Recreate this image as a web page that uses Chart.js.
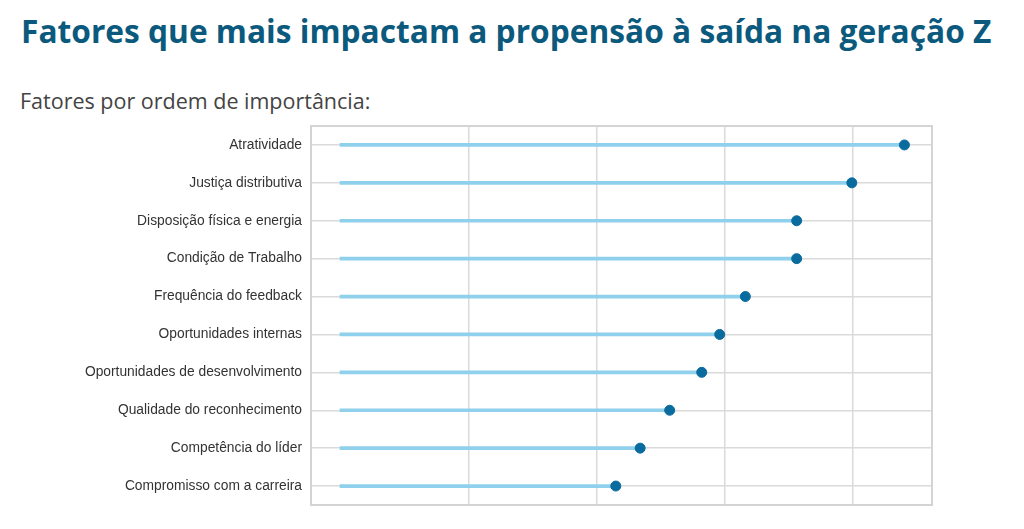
<!DOCTYPE html>
<html>
<head>
<meta charset="utf-8">
<script src="https://cdn.jsdelivr.net/npm/chart.js@4.4.1/dist/chart.umd.min.js"></script>
<style>
    body { margin: 0; background: #fff; width: 1024px; height: 529px; overflow: hidden; position: relative; }
    h1 {
        position: absolute; left: 21px; top: 9px; margin: 0;
        font-family: "Open Sans", sans-serif; font-weight: 700; font-size: 31.7px;
        color: #0b5a7e; white-space: nowrap;
    }
    .sub {
        position: absolute; left: 20px; top: 86px; margin: 0;
        font-family: "Open Sans", sans-serif; font-size: 21.5px; color: #444;
        white-space: nowrap;
    }
    #wrap { position: absolute; left: 0; top: 0; width: 1024px; height: 529px; }
</style>
</head>
<body>
<h1>Fatores que mais impactam a propensão à saída na geração Z</h1>
<p class="sub">Fatores por ordem de importância:</p>
<div id="wrap"><canvas id="chart"></canvas></div>
<script>
// Factors and their importance
const factors = [
    'Atratividade',
    'Justiça distributiva',
    'Disposição física e energia',
    'Condição de Trabalho',
    'Frequência do feedback',
    'Oportunidades internas',
    'Oportunidades de desenvolvimento',
    'Qualidade do reconhecimento',
    'Competência do líder',
    'Compromisso com a carreira'
];
const importance = [4.40, 3.99, 3.56, 3.56, 3.16, 2.96, 2.82, 2.57, 2.34, 2.15];

const xMin = -0.226;
const xMax = 4.615;

// draws the grey frame round the plot area
const frame = {
    id: 'frame',
    beforeDatasetsDraw(chart) {
        const { ctx, chartArea: a } = chart;
        ctx.save();
        ctx.strokeStyle = '#d4d4d4';
        ctx.lineWidth = 2;
        ctx.strokeRect(a.left, a.top, a.right - a.left, a.bottom - a.top);
        ctx.restore();
    }
};

new Chart(document.getElementById('chart'), {
    data: {
        labels: factors,
        datasets: [
            {
                type: 'line',
                indexAxis: 'y',
                data: importance,
                showLine: false,
                pointRadius: 5,
                pointHoverRadius: 5,
                pointBackgroundColor: '#0a6c9e',
                pointBorderColor: '#0a6c9e',
                order: 0
            },
            {
                type: 'bar',
                data: importance,
                backgroundColor: '#8fd0ec',
                barThickness: 3,
                order: 1
            }
        ]
    },
    options: {
        indexAxis: 'y',
        responsive: true,
        maintainAspectRatio: false,
        animation: false,
        layout: { padding: { top: 126, right: 92, bottom: 24, left: 0 } },
        plugins: {
            legend: { display: false },
            tooltip: { enabled: false }
        },
        scales: {
            x: {
                min: xMin,
                max: xMax,
                ticks: { display: false, stepSize: 1 },
                grid: { color: '#dadada', lineWidth: 1.5, drawTicks: false },
                border: { display: false }
            },
            y: {
                afterFit(scale) { scale.width = 311; },
                ticks: {
                    padding: 9,
                    color: '#333',
                    font: { family: 'Liberation Sans, Arial, sans-serif', size: 13.8 }
                },
                grid: { color: '#dadada', lineWidth: 1.5, drawTicks: false, offset: false },
                border: { display: false }
            }
        }
    },
    plugins: [frame]
});
</script>
</body>
</html>
